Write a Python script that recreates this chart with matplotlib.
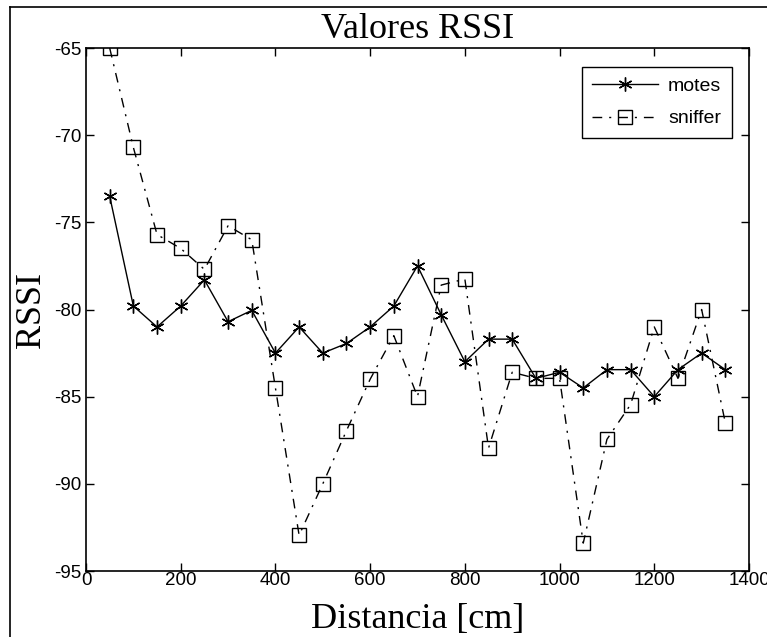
import matplotlib
matplotlib.use("Agg")
import matplotlib.pyplot as plt
from matplotlib.lines import Line2D

distancia = [50, 100, 150, 200, 250, 300, 350, 400, 450, 500, 550, 600, 650, 700,
             750, 800, 850, 900, 950, 1000, 1050, 1100, 1150, 1200, 1250, 1300, 1350]
motes = [-73.5, -79.8, -81.0, -79.8, -78.3, -80.7, -80.05, -82.5, -81.0, -82.5, -81.95,
         -81.0, -79.8, -77.5, -80.3, -83.0, -81.7, -81.7, -83.95, -83.6, -84.5, -83.45,
         -83.45, -85.0, -83.45, -82.5, -83.45]
sniffer = [-65.0, -70.7, -75.7, -76.5, -77.7, -75.2, -76.0, -84.5, -92.95, -90.0, -86.95,
           -84.0, -81.5, -85.0, -78.6, -78.25, -87.95, -83.6, -83.95, -83.95, -93.4, -87.45,
           -85.45, -81.0, -83.95, -80.0, -86.5]

xticks = [0, 200, 400, 600, 800, 1000, 1200, 1400]
yticks = [-95, -90, -85, -80, -75, -70, -65]

W, H = 767, 637
fig = plt.figure(figsize=(W / 100, H / 100), dpi=100)
ax = fig.add_axes([86 / W, 1 - 571 / H, (749 - 86) / W, (571 - 48) / H])

ax.plot(distancia, motes, color='black', linewidth=1.0, linestyle='-',
        marker=(6, 2, 0), markersize=10, markeredgewidth=1.0, label='motes')
ax.plot(distancia, sniffer, color='black', linewidth=1.0, linestyle=(0, (7, 5, 1.5, 5)),
        marker='s', markersize=10, markerfacecolor='none', markeredgecolor='black',
        markeredgewidth=1.0, label='sniffer')

ax.set_xlim(0, 1400)
ax.set_ylim(-95, -65)
ax.set_xticks(xticks)
ax.set_yticks(yticks)
tickfont = dict(family=['Liberation Sans', 'DejaVu Sans'], size=13.5)
ax.set_xticklabels([str(v) for v in xticks], **tickfont)
ax.set_yticklabels([str(v) for v in yticks], **tickfont)
ax.tick_params(axis='x', pad=1)
ax.tick_params(direction='in', top=True, right=True, length=6, width=1, colors='black')
for s in ax.spines.values():
    s.set_linewidth(1.2)

serif = ['Liberation Serif', 'DejaVu Serif']
ax.set_title('Valores RSSI', family=serif, fontsize=26, pad=7)
ax.set_xlabel('Distancia [cm]', family=serif, fontsize=26, labelpad=10)
ax.set_ylabel('RSSI', family=serif, fontsize=26, labelpad=4)

leg = ax.legend(loc='upper right', bbox_to_anchor=(0.9744, 0.9637), borderaxespad=0,
                fancybox=False, edgecolor='black', framealpha=1, handlelength=3.4,
                handletextpad=0.5, borderpad=0.55, labelspacing=0.75,
                prop=dict(family=['Liberation Sans', 'DejaVu Sans'], size=14))
leg.get_frame().set_linewidth(1.0)

# figure frame (left and top edges)
fig.add_artist(Line2D([10 / W, 10 / W], [0, 1 - 7 / H], transform=fig.transFigure,
                      color='black', linewidth=1.2))
fig.add_artist(Line2D([10 / W, 1], [1 - 7 / H, 1 - 7 / H], transform=fig.transFigure,
                      color='black', linewidth=1.2))

fig.savefig('out.png', dpi=100)
